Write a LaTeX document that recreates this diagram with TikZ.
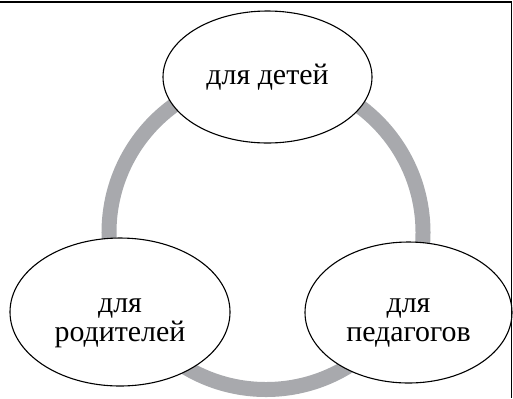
\documentclass[tikz,border=0pt]{standalone}
\usepackage{fontspec}
\setmainfont{Liberation Serif}
\usetikzlibrary{shapes.geometric,positioning}
\definecolor{ringgray}{RGB}{168,169,173}
\tikzset{
    bubble/.style={ % requires library shapes.geometric
        draw,
        ellipse,
        align=center,
        fill=white,
        line width=1.1bp,
        inner sep=0pt,
        font=\fontsize{30}{29}\selectfont
    },
    twoline/.style={
        text height=58bp,
        text depth=0pt
    },
    ring/.style={
        draw=ringgray,
        line width=15bp
    }
}

\begin{document}
\begin{tikzpicture}[x=1bp,y=1bp]
        \useasboundingbox (0,0) rectangle (513,-398);
        \def\rad{157}
        \coordinate (O) at (266,-232.5);
        \draw[ring] (O) circle[radius=\rad bp];

        \node[bubble, minimum width=209bp, minimum height=132bp] (kids) at (267.5,-77) {для детей};
        \node[bubble, twoline, minimum width=220bp, minimum height=148bp] (parents) at (120,-312) {для\\родителей};
        \node[bubble, twoline, minimum width=207bp, minimum height=141bp] (teachers) at (408.5,-312.5) {для\\педагогов};

        \coordinate (topleft) at (0,-2);
        \coordinate (topright) at (511.5,-2);
        \coordinate (bottomright) at (511.5,-398);
        \draw[line width=1.2bp] (topleft) -- (topright) -- (bottomright);
    \end{tikzpicture}
\end{document}
